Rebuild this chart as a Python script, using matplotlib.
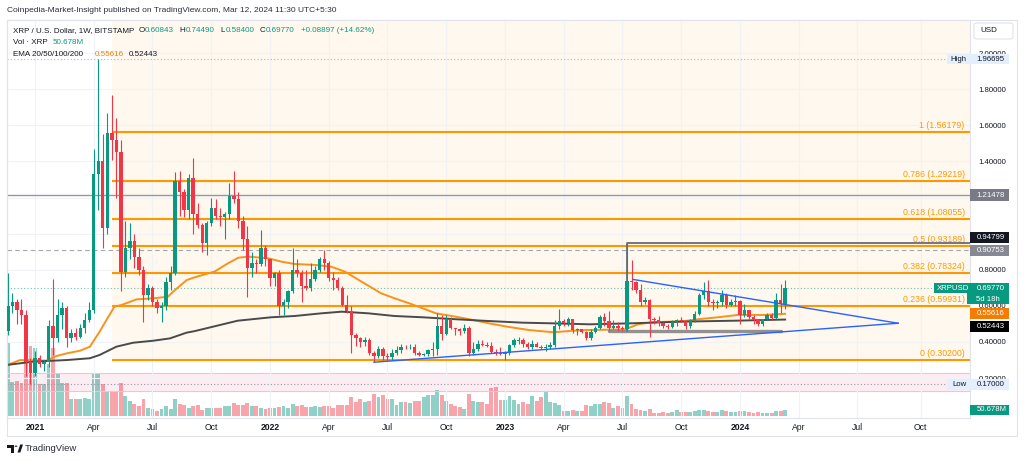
import numpy as np
import pandas as pd
import matplotlib
matplotlib.use('Agg')
import matplotlib.pyplot as plt
import matplotlib.dates as mdates
from matplotlib.patches import Rectangle, FancyBboxPatch, Polygon, Circle

plt.rcParams['font.family'] = ['Liberation Sans', 'DejaVu Sans']

# XRP/USD weekly candles (BITSTAMP), first bar = week of 2020-11-23
first_week = '2020-11-23'
opens = [0.46, 0.60, 0.62, 0.58, 0.55, 0.29, 0.23, 0.31, 0.28, 0.29,
         0.49, 0.42, 0.55, 0.59, 0.42, 0.45, 0.43, 0.48, 0.52, 0.58,
         1.33, 1.40, 1.03, 1.56, 1.52, 1.45, 0.79, 0.92, 0.96, 0.87,
         0.80, 0.66, 0.70, 0.62, 0.59, 0.60, 0.73, 0.78, 1.29, 1.23,
         1.13, 1.31, 1.11, 1.05, 0.95, 1.06, 1.14, 1.10, 1.09, 1.11,
         1.21, 1.19, 1.07, 0.97, 0.81, 0.84, 0.83, 0.92, 0.86, 0.755,
         0.78, 0.60, 0.62, 0.68, 0.80, 0.78, 0.71, 0.70, 0.75, 0.80,
         0.86, 0.84, 0.755, 0.745, 0.70, 0.605, 0.57, 0.44, 0.42, 0.40,
         0.41, 0.34, 0.32, 0.36, 0.32, 0.315, 0.34, 0.355, 0.375, 0.37,
         0.375, 0.34, 0.33, 0.335, 0.355, 0.36, 0.49, 0.445, 0.53, 0.48,
         0.47, 0.46, 0.475, 0.34, 0.36, 0.39, 0.385, 0.38, 0.345, 0.34,
         0.335, 0.34, 0.385, 0.405, 0.41, 0.39, 0.375, 0.39, 0.375, 0.365,
         0.375, 0.385, 0.49, 0.515, 0.505, 0.525, 0.465, 0.47, 0.455, 0.42,
         0.455, 0.48, 0.54, 0.515, 0.48, 0.49, 0.48, 0.47, 0.74, 0.73,
         0.69, 0.62, 0.63, 0.53, 0.52, 0.505, 0.49, 0.485, 0.51, 0.52,
         0.515, 0.49, 0.52, 0.555, 0.66, 0.68, 0.62, 0.615, 0.62, 0.66,
         0.605, 0.62, 0.625, 0.55, 0.575, 0.54, 0.52, 0.50, 0.525, 0.55,
         0.535, 0.63, 0.60843]
highs = [0.78, 0.67, 0.64, 0.64, 0.58, 0.31, 0.35, 0.33, 0.30, 0.52,
         0.75, 0.64, 0.62, 0.60, 0.47, 0.48, 0.50, 0.56, 0.62, 1.47,
         1.96695, 1.55, 1.67, 1.77, 1.64, 1.52, 1.07, 1.06, 1.00, 0.92,
         0.82, 0.72, 0.71, 0.64, 0.62, 0.76, 0.82, 1.34, 1.35, 1.25,
         1.33, 1.42, 1.17, 1.06, 1.07, 1.20, 1.19, 1.14, 1.12, 1.28,
         1.35, 1.23, 1.10, 1.04, 0.90, 0.86, 1.02, 0.94, 0.86, 0.79,
         0.80, 0.64, 0.69, 0.92, 0.86, 0.80, 0.80, 0.84, 0.82, 0.87,
         0.91, 0.85, 0.79, 0.76, 0.71, 0.66, 0.60, 0.45, 0.43, 0.43,
         0.42, 0.35, 0.38, 0.37, 0.34, 0.36, 0.38, 0.39, 0.385, 0.39,
         0.39, 0.35, 0.34, 0.36, 0.40, 0.56, 0.55, 0.55, 0.54, 0.48,
         0.48, 0.50, 0.49, 0.40, 0.41, 0.41, 0.40, 0.40, 0.36, 0.37,
         0.35, 0.39, 0.42, 0.43, 0.42, 0.40, 0.41, 0.40, 0.385, 0.39,
         0.40, 0.52, 0.585, 0.53, 0.54, 0.53, 0.48, 0.47, 0.46, 0.47,
         0.49, 0.55, 0.56, 0.57, 0.52, 0.51, 0.49, 0.948, 0.855, 0.74,
         0.72, 0.65, 0.64, 0.54, 0.545, 0.51, 0.50, 0.52, 0.53, 0.54,
         0.52, 0.53, 0.57, 0.67, 0.73, 0.745, 0.64, 0.63, 0.69, 0.67,
         0.64, 0.66, 0.63, 0.61, 0.58, 0.55, 0.525, 0.53, 0.56, 0.56,
         0.67, 0.72, 0.74490]
lows = [0.44, 0.56, 0.50, 0.50, 0.21, 0.17, 0.21, 0.26, 0.24, 0.26,
        0.33, 0.40, 0.47, 0.37, 0.40, 0.41, 0.42, 0.45, 0.51, 0.56,
        1.13, 0.92, 1.00, 1.41, 1.20, 0.68, 0.76, 0.86, 0.81, 0.77,
        0.51, 0.63, 0.60, 0.56, 0.51, 0.58, 0.69, 0.77, 1.10, 1.09,
        1.08, 1.00, 1.03, 0.90, 0.88, 1.04, 1.08, 1.04, 0.97, 1.08,
        1.17, 1.03, 0.91, 0.65, 0.76, 0.78, 0.82, 0.82, 0.71, 0.71,
        0.55, 0.55, 0.59, 0.67, 0.76, 0.62, 0.69, 0.68, 0.74, 0.79,
        0.80, 0.74, 0.69, 0.69, 0.60, 0.56, 0.34, 0.38, 0.37, 0.38,
        0.33, 0.29, 0.31, 0.30, 0.30, 0.30, 0.33, 0.34, 0.36, 0.36,
        0.33, 0.32, 0.32, 0.32, 0.32, 0.33, 0.41, 0.44, 0.47, 0.44,
        0.44, 0.45, 0.32, 0.33, 0.35, 0.38, 0.375, 0.34, 0.33, 0.33,
        0.30, 0.33, 0.37, 0.39, 0.37, 0.36, 0.36, 0.37, 0.36, 0.35,
        0.36, 0.37, 0.47, 0.49, 0.49, 0.45, 0.44, 0.45, 0.41, 0.41,
        0.45, 0.47, 0.49, 0.46, 0.47, 0.46, 0.46, 0.46, 0.69, 0.67,
        0.60, 0.61, 0.43, 0.50, 0.49, 0.48, 0.47, 0.48, 0.49, 0.51,
        0.47, 0.48, 0.51, 0.55, 0.64, 0.60, 0.58, 0.59, 0.60, 0.59,
        0.60, 0.60, 0.50, 0.54, 0.53, 0.50, 0.49, 0.49, 0.52, 0.52,
        0.53, 0.56, 0.58400]
closes = [0.60, 0.62, 0.58, 0.55, 0.29, 0.23, 0.31, 0.28, 0.29, 0.49,
          0.42, 0.55, 0.59, 0.42, 0.45, 0.43, 0.48, 0.52, 0.58, 1.33,
          1.40, 1.03, 1.56, 1.52, 1.45, 0.79, 0.92, 0.96, 0.87, 0.80,
          0.66, 0.70, 0.62, 0.59, 0.60, 0.73, 0.78, 1.29, 1.23, 1.13,
          1.31, 1.11, 1.05, 0.95, 1.06, 1.14, 1.10, 1.09, 1.11, 1.21,
          1.19, 1.07, 0.97, 0.81, 0.84, 0.83, 0.92, 0.86, 0.755, 0.78,
          0.60, 0.62, 0.68, 0.80, 0.78, 0.71, 0.70, 0.75, 0.80, 0.86,
          0.84, 0.755, 0.745, 0.70, 0.605, 0.57, 0.44, 0.42, 0.40, 0.41,
          0.34, 0.32, 0.36, 0.32, 0.315, 0.34, 0.355, 0.375, 0.37, 0.375,
          0.34, 0.33, 0.335, 0.355, 0.36, 0.49, 0.445, 0.53, 0.48, 0.47,
          0.46, 0.475, 0.34, 0.36, 0.39, 0.385, 0.38, 0.345, 0.34, 0.335,
          0.34, 0.385, 0.41, 0.41, 0.39, 0.375, 0.39, 0.375, 0.365, 0.375,
          0.385, 0.49, 0.515, 0.505, 0.525, 0.465, 0.47, 0.455, 0.42, 0.455,
          0.48, 0.54, 0.515, 0.48, 0.49, 0.48, 0.47, 0.74, 0.73, 0.69,
          0.62, 0.63, 0.53, 0.52, 0.505, 0.49, 0.485, 0.51, 0.52, 0.515,
          0.49, 0.52, 0.555, 0.66, 0.68, 0.62, 0.615, 0.62, 0.66, 0.605,
          0.62, 0.625, 0.55, 0.575, 0.54, 0.52, 0.50, 0.525, 0.55, 0.535,
          0.63, 0.60843, 0.69770]
# weekly volume, millions of XRP
volume = [740, 340, 350, 330, 700, 700, 680, 320, 320, 520,
          680, 420, 330, 330, 170, 170, 170, 180, 170, 430,
          430, 320, 250, 240, 240, 330, 200, 150, 120, 100,
          170, 80, 70, 50, 70, 100, 70, 170, 120, 110,
          80, 100, 110, 60, 80, 80, 80, 80, 100, 100,
          130, 110, 110, 130, 100, 100, 80, 70, 80, 80,
          90, 100, 80, 120, 100, 110, 90, 90, 100, 90,
          100, 100, 80, 110, 110, 110, 190, 140, 170, 140,
          150, 220, 190, 210, 170, 170, 110, 140, 140, 130,
          150, 150, 190, 210, 210, 260, 210, 150, 120, 100,
          90, 70, 220, 150, 140, 140, 120, 280, 290, 160,
          160, 200, 160, 120, 140, 120, 200, 150, 190, 250,
          140, 130, 110, 50, 50, 60, 50, 50, 105, 100,
          120, 120, 140, 130, 80, 100, 80, 200, 120, 70,
          60, 50, 70, 30, 30, 40, 30, 40, 60, 40,
          40, 40, 50, 60, 60, 50, 40, 40, 60, 50,
          40, 40, 50, 50, 40, 30, 40, 30, 30, 30,
          50, 50, 50.678]

# EMA lines
ema_fast_dates = ['2020-11-22', '2020-12-12', '2021-01-22', '2021-02-06', '2021-02-22',
                  '2021-03-15', '2021-03-30', '2021-04-14', '2021-05-07', '2021-05-18',
                  '2021-06-10', '2021-07-06', '2021-07-29', '2021-08-06', '2021-08-27',
                  '2021-09-08', '2021-10-09', '2021-10-30', '2021-11-15', '2021-11-30',
                  '2021-12-31', '2022-01-21', '2022-02-10', '2022-03-14', '2022-04-08',
                  '2022-04-29', '2022-05-25', '2022-06-24', '2022-07-15', '2022-08-07',
                  '2022-09-17', '2022-10-18', '2022-11-08', '2022-12-09', '2023-01-05',
                  '2023-02-09', '2023-03-18', '2023-04-12', '2023-05-05', '2023-07-07',
                  '2023-07-27', '2023-08-17', '2023-10-07', '2023-10-28', '2023-11-28',
                  '2023-12-29', '2024-02-08', '2024-03-11']
ema_fast = [0.273, 0.300, 0.297, 0.322, 0.337, 0.352, 0.374, 0.457, 0.596, 0.605,
            0.636, 0.642, 0.651, 0.679, 0.743, 0.758, 0.790, 0.836, 0.867, 0.873,
            0.864, 0.845, 0.832, 0.827, 0.817, 0.790, 0.734, 0.670, 0.642, 0.614,
            0.559, 0.540, 0.526, 0.503, 0.485, 0.466, 0.454, 0.461, 0.466, 0.470,
            0.498, 0.509, 0.516, 0.526, 0.537, 0.550, 0.550, 0.55616]
ema_slow_dates = ['2020-11-22', '2021-01-01', '2021-02-22', '2021-03-30', '2021-04-14',
                  '2021-05-10', '2021-06-05', '2021-07-06', '2021-08-01', '2021-08-27',
                  '2021-09-08', '2021-11-14', '2022-01-05', '2022-02-10', '2022-03-24',
                  '2022-04-24', '2022-06-04', '2022-07-15', '2022-08-27', '2022-10-18',
                  '2022-12-09', '2023-01-30', '2023-03-22', '2023-05-13', '2023-07-12',
                  '2023-10-06', '2023-12-24', '2024-03-11']
ema_slow = [0.273, 0.291, 0.300, 0.310, 0.328, 0.374, 0.396, 0.407, 0.420, 0.452,
            0.460, 0.518, 0.537, 0.544, 0.559, 0.568, 0.559, 0.544, 0.537, 0.526,
            0.516, 0.507, 0.503, 0.498, 0.503, 0.513, 0.518, 0.52443]

fib_ratio = ['1', '0.786', '0.618', '0.5', '0.382', '0.236', '0']
fib_price = [1.56179, 1.29219, 1.08055, 0.93189, 0.78324, 0.59931, 0.30200]
fib_start = '2021-05-03'

tick_dates = ['2021-01-04', '2021-04-05', '2021-07-05', '2021-10-04', '2022-01-03',
              '2022-04-04', '2022-07-04', '2022-10-03', '2023-01-02', '2023-04-03',
              '2023-07-03', '2023-10-02', '2024-01-01', '2024-04-01', '2024-07-01',
              '2024-10-07']
tick_labels = ['2021', 'Apr', 'Jul', 'Oct', '2022', 'Apr', 'Jul', 'Oct', '2023',
               'Apr', 'Jul', 'Oct', '2024', 'Apr', 'Jul', 'Oct']
price_ticks = [0.2, 0.4, 0.6, 0.8, 1.0, 1.2, 1.4, 1.6, 1.8, 2.0]
price_tick_labels = ['0.20000', '0.40000', '0.60000', '0.80000', '', '',
                     '1.40000', '1.60000', '1.80000', '2.00000']

# drawn levels / trendlines
high_price, low_price, last_price = 1.96695, 0.17, 0.69770
gray_level, dash_level, box_top, box_base = 1.21478, 0.90753, 0.94799, 0.461
lower_trend = (['2022-06-13', '2024-09-02'], [0.288, 0.504])
upper_trend = (['2023-07-19', '2024-09-02'], [0.747, 0.504])

GREEN, RED = '#089981', '#f23645'
ORANGE, FIB = '#f57c00', '#ff9800'
DARK = '#131722'

W, H = 1024, 461
def fx(x): return x / W
def fy(y): return 1 - y / H

dates = mdates.date2num(pd.date_range(first_week, periods=len(closes), freq='W-MON'))
o, h, l, c = map(np.array, (opens, highs, lows, closes))
up = c >= o

fig = plt.figure(figsize=(10.24, 4.61), dpi=100)
rect = [fx(7), fy(418), (970 - 7) / W, (418 - 20) / H]
axv = fig.add_axes(rect)
ax = fig.add_axes(rect, sharex=axv)
ax.set_zorder(1)
ax.patch.set_visible(False)

t0 = mdates.date2num(pd.Timestamp('2021-01-04'))
px_day = 4.519 / 7
ax.set_xlim(t0 + (7 - 35) / px_day, t0 + (970 - 35) / px_day)
ax.set_ylim((414.2 - 418) / 180.5, (414.2 - 20) / 180.5)
axv.set_ylim(-25, 3955)

# volume
axv.bar(dates, volume, width=6.0, color=np.where(up, GREEN, RED), alpha=0.45, lw=0)
axv.axis('off')

xmax = ax.get_xlim()[1]
fs = mdates.date2num(pd.Timestamp(fib_start))

# fib background + pink low band
ax.fill_between([fs, xmax], fib_price[-1], 2.3, color='#fff8ee', zorder=0.2, lw=0)
ax.axhspan(0.131, 0.231, color='#e91e63', alpha=0.08, zorder=0.3, lw=0)
for yb in (0.131, 0.231):
    ax.axhline(yb, color='#f2c4d2', lw=0.8, zorder=0.4)

ax.set_axisbelow(True)
ax.grid(True, color='#f0f2f6', lw=0.8)

ax.hlines(fib_price, fs, xmax, color=FIB, lw=1.5, zorder=1.5)
for r, p in zip(fib_ratio, fib_price):
    ax.annotate(f'{r} ({p:.5f})', xy=(0.9945, p), xycoords=('axes fraction', 'data'),
                xytext=(0, 1.5), textcoords='offset points', ha='right', va='bottom',
                fontsize=6.3, color=FIB, zorder=2)

ax.axhline(gray_level, color='#9598a1', lw=1.0, zorder=1.2)
ax.axhline(dash_level, color='#a3a6af', lw=0.8, ls=(0, (4, 3)), zorder=1.2)
ax.axhline(high_price, color='#b2b5be', lw=0.8, ls=(0, (1, 2)), zorder=1.2)
ax.axhline(low_price, color='#9598a1', lw=0.8, ls=(0, (1, 2)), zorder=1.2)
ax.axhline(last_price, color=GREEN, lw=0.8, ls=(0, (1, 2)), alpha=0.6, zorder=1.2)

# EMAs
ax.plot(mdates.date2num(pd.to_datetime(ema_fast_dates)), ema_fast, color='#f7931a', lw=1.4, zorder=2)
ax.plot(mdates.date2num(pd.to_datetime(ema_slow_dates)), ema_slow, color='#4a4a4a', lw=1.4, zorder=2)

# range box drawn on the chart
jul = mdates.date2num(pd.Timestamp('2023-07-10'))
ax.plot([jul, jul, xmax], [box_base, box_top, box_top], color='#5d606b', lw=1.2, zorder=2.2)
ax.plot(mdates.date2num(pd.to_datetime(['2023-06-12', '2024-03-05'])), [box_base, box_base],
        color='#7f7f7f', lw=2.4, alpha=0.85, solid_capstyle='round', zorder=2.2)

# candles
col = np.where(up, GREEN, RED)
ax.vlines(dates, l, h, colors=col, lw=0.8, zorder=3)
body = np.maximum(np.abs(c - o), 0.004)
ax.bar(dates, body, bottom=np.minimum(o, c), width=5.2, color=col, lw=0, zorder=3.1)

# triangle trendlines
for xs, ys in (lower_trend, upper_trend):
    ax.plot(mdates.date2num(pd.to_datetime(xs)), ys, color='#2962ff', lw=1.0, zorder=4)

# axes styling
ax.set_xticks(mdates.date2num(pd.to_datetime(tick_dates)))
ax.set_xticklabels(tick_labels)
for t, s in zip(ax.get_xticklabels(), tick_labels):
    t.set_fontweight('bold' if s.isdigit() else 'normal')
ax.tick_params(axis='x', length=0, labelsize=6.2, colors=DARK, pad=3.5)
ax.yaxis.tick_right()
ax.set_yticks(price_ticks)
ax.set_yticklabels(price_tick_labels)
ax.tick_params(axis='y', length=0, labelsize=5.6, colors=DARK, pad=6)
for s in ax.spines.values():
    s.set_color('#e0e3eb')
    s.set_linewidth(0.8)

# outer frame
fig.add_artist(Rectangle((fx(7), fy(436)), (1017 - 7) / W, (436 - 20) / H, fill=False,
                         ec='#e0e3eb', lw=0.8, transform=fig.transFigure))

def ftext(x, y, s, **kw):
    kw.setdefault('fontsize', 5.8)
    kw.setdefault('color', DARK)
    return fig.text(fx(x), fy(y), s, va='center', ha=kw.pop('ha', 'left'), **kw)

def tag(x0, x1, y0, y1, fc, z=6):
    fig.add_artist(Rectangle((fx(x0), fy(y1)), (x1 - x0) / W, (y1 - y0) / H,
                             fc=fc, ec='none', transform=fig.transFigure, zorder=z))

# header
ftext(7, 11, 'Coinpedia-Market-Insight published on TradingView.com, Mar 12, 2024 11:30 UTC+5:30',
      color='#2a2e39', fontsize=6.0)
ftext(12.7, 30.5, 'XRP / U.S. Dollar, 1W, BITSTAMP')
for x, s, cc in [(138.5, 'O', DARK), (145, '0.60843', GREEN), (179, 'H', DARK), (185.5, '0.74490', GREEN),
                 (220, 'L', DARK), (225.3, '0.58400', GREEN), (259.5, 'C', DARK), (266, '0.69770', GREEN),
                 (301, '+0.08897 (+14.62%)', GREEN)]:
    ftext(x, 30.5, s, color=cc)
ftext(12.7, 42.5, 'Vol · XRP')
ftext(52.7, 42.5, '50.678M', color=GREEN)
ftext(12.7, 54, 'EMA 20/50/100/200')
ftext(94.3, 54, '0.55616', color=ORANGE)
ftext(129, 54, '0.52443')

# price-scale tags
fig.add_artist(FancyBboxPatch((fx(974), fy(39)), 39 / W, 16 / H, boxstyle='round,pad=0,rounding_size=0.004',
                              fc='white', ec='#e0e3eb', lw=0.8, transform=fig.transFigure, zorder=6))
ftext(980, 31, 'USD', zorder=7)

tag(947, 1009, 54, 64.5, '#e3effd')
ftext(950, 59.3, 'High', zorder=7, fontsize=5.6)
ftext(976.5, 59.3, '1.96695', zorder=7, fontsize=5.6)

for (y0, y1, fc, s) in [(189.3, 201, '#787b86', '1.21478'), (232.5, 243, DARK, '0.94799'),
                        (245, 256, '#868993', '0.90753'), (308.3, 319.3, ORANGE, '0.55616'),
                        (320.5, 331.5, '#000000', '0.52443'), (404.5, 415, GREEN, '50.678M')]:
    tag(970, 1009, y0, y1, fc)
    ftext(976.5, (y0 + y1) / 2, s, color='white', zorder=7, fontsize=5.6)

tag(934, 1009, 282.7, 293.3, GREEN)
tag(967, 1009, 293, 304.3, GREEN)
ftext(937, 288, 'XRPUSD', color='white', zorder=7, fontsize=5.6)
ftext(976.5, 288, '0.69770', color='white', zorder=7, fontsize=5.6)
ftext(976.5, 299, '5d 18h', color='white', zorder=7, fontsize=5.6)

tag(947, 1009, 379, 389.5, '#e3effd')
ftext(952, 384.3, 'Low', zorder=7, fontsize=5.6)
ftext(976.5, 384.3, '0.17000', zorder=7, fontsize=5.6)

# TradingView footer logo
for poly in ([(7, 444.5), (14, 444.5), (14, 452.5), (11, 452.5), (11, 447.5), (7, 447.5)],
             [(17.5, 452.5), (20.2, 444.5), (23, 444.5), (20.3, 452.5)]):
    fig.add_artist(Polygon([(fx(a), fy(b)) for a, b in poly], closed=True, fc=DARK, ec='none',
                           transform=fig.transFigure))
fig.add_artist(Circle((fx(16.0), fy(446.2)), 1.4 / W, fc=DARK, ec='none', transform=fig.transFigure))
ftext(25, 448.5, 'TradingView', fontsize=6.8, color='#2a2e39')

fig.savefig('out.png', dpi=100, facecolor='white')
